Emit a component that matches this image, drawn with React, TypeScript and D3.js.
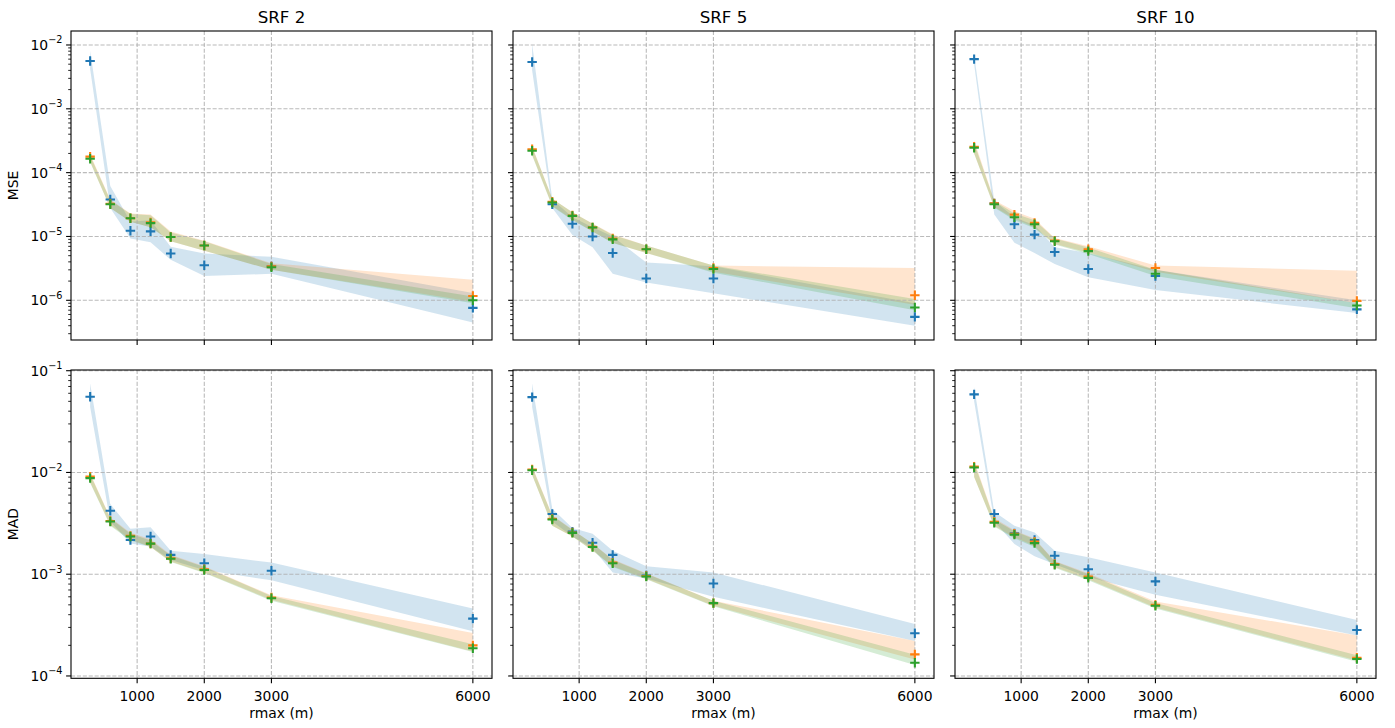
import React from "react";
import * as d3 from "d3";

// ---------- data ----------
const rmax = [300, 600, 900, 1200, 1500, 2000, 3000, 6000];
const xTicks = [1000, 2000, 3000, 6000];
const srfTitles = ["SRF 2", "SRF 5", "SRF 10"];
const metricLabels = ["MSE", "MAD"];
const seriesColors = ["#1f77b4", "#ff7f0e", "#2ca02c"];

// MSE, SRF 2
const mse2A = [5.6e-3, 3.8e-5, 1.23e-5, 1.2e-5, 5.4e-6, 3.55e-6, 3.4e-6, 7.6e-7];
const mse2ALo = [4.2e-3, 2.8e-5, 9.3e-6, 8.1e-6, 4.3e-6, 2.4e-6, 2.6e-6, 4.5e-7];
const mse2AHi = [8.1e-3, 6.2e-5, 1.7e-5, 1.8e-5, 6.9e-6, 5.4e-6, 4.8e-6, 1.3e-6];
const mse2B = [1.78e-4, 3.25e-5, 1.93e-5, 1.66e-5, 9.8e-6, 7.2e-6, 3.4e-6, 1.17e-6];
const mse2BLo = [1.5e-4, 2.8e-5, 1.7e-5, 1.4e-5, 8.4e-6, 6.0e-6, 3.0e-6, 9.5e-7];
const mse2BHi = [1.95e-4, 3.8e-5, 2.3e-5, 2.2e-5, 1.2e-5, 8.6e-6, 3.8e-6, 2.1e-6];
const mse2C = [1.65e-4, 3.2e-5, 1.93e-5, 1.62e-5, 9.8e-6, 7.2e-6, 3.3e-6, 1.0e-6];
const mse2CLo = [1.45e-4, 2.8e-5, 1.7e-5, 1.4e-5, 8.4e-6, 6.0e-6, 3.0e-6, 9.0e-7];
const mse2CHi = [1.85e-4, 3.7e-5, 2.25e-5, 2.15e-5, 1.15e-5, 8.4e-6, 3.7e-6, 1.15e-6];

// MSE, SRF 5
const mse5A = [5.4e-3, 3.2e-5, 1.58e-5, 1.0e-5, 5.5e-6, 2.2e-6, 2.2e-6, 5.5e-7];
const mse5ALo = [4.0e-3, 2.8e-5, 1.05e-5, 6.8e-6, 2.6e-6, 1.9e-6, 1.29e-6, 4.0e-7];
const mse5AHi = [1.05e-2, 3.8e-5, 2.0e-5, 1.4e-5, 1.0e-5, 3.9e-6, 3.4e-6, 9.0e-7];
const mse5B = [2.32e-4, 3.5e-5, 2.13e-5, 1.39e-5, 9.3e-6, 6.3e-6, 3.2e-6, 1.2e-6];
const mse5BLo = [1.9e-4, 3.0e-5, 1.85e-5, 1.2e-5, 8.0e-6, 5.5e-6, 2.8e-6, 8.5e-7];
const mse5BHi = [2.6e-4, 3.9e-5, 2.4e-5, 1.6e-5, 1.08e-5, 7.2e-6, 3.5e-6, 3.2e-6];
const mse5C = [2.2e-4, 3.4e-5, 2.1e-5, 1.38e-5, 9.0e-6, 6.3e-6, 3.1e-6, 7.7e-7];
const mse5CLo = [1.85e-4, 2.95e-5, 1.8e-5, 1.2e-5, 7.9e-6, 5.5e-6, 2.7e-6, 7.0e-7];
const mse5CHi = [2.55e-4, 3.9e-5, 2.4e-5, 1.58e-5, 1.05e-5, 7.2e-6, 3.5e-6, 1.05e-6];

// MSE, SRF 10
const mse10A = [6.0e-3, 3.3e-5, 1.55e-5, 1.07e-5, 5.7e-6, 3.1e-6, 2.4e-6, 7.2e-7];
const mse10ALo = [5.0e-3, 2.2e-5, 8.0e-6, 5.5e-6, 3.7e-6, 2.3e-6, 1.45e-6, 6.3e-7];
const mse10AHi = [7.0e-3, 3.6e-5, 2.0e-5, 1.5e-5, 6.8e-6, 5.5e-6, 3.0e-6, 1.0e-6];
const mse10B = [2.55e-4, 3.3e-5, 2.2e-5, 1.63e-5, 8.6e-6, 6.3e-6, 3.2e-6, 9.8e-7];
const mse10BLo = [2.0e-4, 2.9e-5, 1.9e-5, 1.4e-5, 7.6e-6, 5.6e-6, 2.8e-6, 9.0e-7];
const mse10BHi = [3.2e-4, 3.7e-5, 2.5e-5, 1.9e-5, 9.5e-6, 7.0e-6, 3.5e-6, 2.9e-6];
const mse10C = [2.45e-4, 3.2e-5, 2.0e-5, 1.55e-5, 8.4e-6, 5.9e-6, 2.6e-6, 8.3e-7];
const mse10CLo = [2.0e-4, 2.85e-5, 1.8e-5, 1.35e-5, 7.5e-6, 5.3e-6, 2.4e-6, 7.5e-7];
const mse10CHi = [2.9e-4, 3.6e-5, 2.3e-5, 1.8e-5, 9.3e-6, 6.7e-6, 3.0e-6, 9.0e-7];

// MAD, SRF 2
const mad2A = [5.55e-2, 4.2e-3, 2.17e-3, 2.35e-3, 1.55e-3, 1.28e-3, 1.08e-3, 3.66e-4];
const mad2ALo = [4.4e-2, 3.3e-3, 2.0e-3, 1.87e-3, 1.38e-3, 1.1e-3, 8.7e-4, 2.75e-4];
const mad2AHi = [7.5e-2, 4.9e-3, 2.8e-3, 2.9e-3, 1.7e-3, 1.58e-3, 1.3e-3, 4.6e-4];
const mad2B = [9.1e-3, 3.33e-3, 2.38e-3, 2.0e-3, 1.43e-3, 1.12e-3, 5.9e-4, 2.0e-4];
const mad2BLo = [8.0e-3, 3.05e-3, 2.2e-3, 1.85e-3, 1.33e-3, 1.04e-3, 5.6e-4, 1.74e-4];
const mad2BHi = [9.8e-3, 3.6e-3, 2.55e-3, 2.2e-3, 1.55e-3, 1.2e-3, 6.2e-4, 2.64e-4];
const mad2C = [8.8e-3, 3.3e-3, 2.35e-3, 2.0e-3, 1.42e-3, 1.1e-3, 5.8e-4, 1.87e-4];
const mad2CLo = [7.9e-3, 3.0e-3, 2.15e-3, 1.85e-3, 1.32e-3, 1.03e-3, 5.5e-4, 1.72e-4];
const mad2CHi = [9.6e-3, 3.55e-3, 2.5e-3, 2.15e-3, 1.53e-3, 1.18e-3, 6.1e-4, 2.05e-4];

// MAD, SRF 5
const mad5A = [5.5e-2, 3.9e-3, 2.62e-3, 2.04e-3, 1.55e-3, 9.7e-4, 8.1e-4, 2.63e-4];
const mad5ALo = [4.4e-2, 3.3e-3, 2.35e-3, 1.8e-3, 1.04e-3, 9.1e-4, 6.0e-4, 2.2e-4];
const mad5AHi = [7.5e-2, 4.4e-3, 2.85e-3, 2.5e-3, 1.7e-3, 1.2e-3, 1.04e-3, 3.25e-4];
const mad5B = [1.07e-2, 3.5e-3, 2.57e-3, 1.87e-3, 1.3e-3, 9.6e-4, 5.2e-4, 1.63e-4];
const mad5BLo = [9.5e-3, 3.0e-3, 2.35e-3, 1.72e-3, 1.2e-3, 9.0e-4, 4.9e-4, 1.45e-4];
const mad5BHi = [1.15e-2, 3.8e-3, 2.75e-3, 2.0e-3, 1.4e-3, 1.02e-3, 5.5e-4, 2.2e-4];
const mad5C = [1.05e-2, 3.45e-3, 2.55e-3, 1.85e-3, 1.28e-3, 9.5e-4, 5.2e-4, 1.35e-4];
const mad5CLo = [9.4e-3, 3.0e-3, 2.35e-3, 1.7e-3, 1.18e-3, 8.9e-4, 4.85e-4, 1.28e-4];
const mad5CHi = [1.13e-2, 3.75e-3, 2.72e-3, 2.0e-3, 1.38e-3, 1.01e-3, 5.5e-4, 1.62e-4];

// MAD, SRF 10
const mad10A = [5.86e-2, 3.9e-3, 2.52e-3, 2.17e-3, 1.52e-3, 1.12e-3, 8.5e-4, 2.83e-4];
const mad10ALo = [5.0e-2, 3.3e-3, 1.98e-3, 1.5e-3, 1.25e-3, 9.4e-4, 6.3e-4, 2.5e-4];
const mad10AHi = [6.9e-2, 4.1e-3, 3.0e-3, 2.57e-3, 1.7e-3, 1.47e-3, 1.04e-3, 3.55e-4];
const mad10B = [1.14e-2, 3.28e-3, 2.5e-3, 2.09e-3, 1.26e-3, 9.5e-4, 5.0e-4, 1.51e-4];
const mad10BLo = [9.0e-3, 3.0e-3, 2.3e-3, 1.9e-3, 1.18e-3, 8.9e-4, 4.7e-4, 1.42e-4];
const mad10BHi = [1.3e-2, 3.55e-3, 2.7e-3, 2.25e-3, 1.35e-3, 1.02e-3, 5.4e-4, 2.5e-4];
const mad10C = [1.12e-2, 3.2e-3, 2.45e-3, 2.02e-3, 1.24e-3, 9.2e-4, 4.9e-4, 1.47e-4];
const mad10CLo = [9.0e-3, 2.95e-3, 2.25e-3, 1.85e-3, 1.16e-3, 8.7e-4, 4.6e-4, 1.38e-4];
const mad10CHi = [1.25e-2, 3.45e-3, 2.65e-3, 2.2e-3, 1.33e-3, 1.0e-3, 5.2e-4, 1.6e-4];

// axis limits
const xDomain = [15, 6285];
const mseDomain = [Math.pow(10, -6.622), Math.pow(10, -1.781)];
const madDomain = [Math.pow(10, -4.023), Math.pow(10, -0.993)];

// ---------- assembly ----------
type Series = { mean: number[]; lo: number[]; hi: number[] };
const grid: Series[][][] = [
  [
    [
      { mean: mse2A, lo: mse2ALo, hi: mse2AHi },
      { mean: mse2B, lo: mse2BLo, hi: mse2BHi },
      { mean: mse2C, lo: mse2CLo, hi: mse2CHi },
    ],
    [
      { mean: mse5A, lo: mse5ALo, hi: mse5AHi },
      { mean: mse5B, lo: mse5BLo, hi: mse5BHi },
      { mean: mse5C, lo: mse5CLo, hi: mse5CHi },
    ],
    [
      { mean: mse10A, lo: mse10ALo, hi: mse10AHi },
      { mean: mse10B, lo: mse10BLo, hi: mse10BHi },
      { mean: mse10C, lo: mse10CLo, hi: mse10CHi },
    ],
  ],
  [
    [
      { mean: mad2A, lo: mad2ALo, hi: mad2AHi },
      { mean: mad2B, lo: mad2BLo, hi: mad2BHi },
      { mean: mad2C, lo: mad2CLo, hi: mad2CHi },
    ],
    [
      { mean: mad5A, lo: mad5ALo, hi: mad5AHi },
      { mean: mad5B, lo: mad5BLo, hi: mad5BHi },
      { mean: mad5C, lo: mad5CLo, hi: mad5CHi },
    ],
    [
      { mean: mad10A, lo: mad10ALo, hi: mad10AHi },
      { mean: mad10B, lo: mad10BLo, hi: mad10BHi },
      { mean: mad10C, lo: mad10CLo, hi: mad10CHi },
    ],
  ],
];
const rowDomains = [mseDomain, madDomain];

const W = 1395;
const H = 728;
const colLeft = [71, 513, 955];
const panelW = 421;
const rowTop = [31, 370];
const rowH = [309, 308.3];
const FONT = "DejaVu Sans, Verdana, sans-serif";
const TICK_FS = 13.9;

function Panel({ row, col }: { row: number; col: number }) {
  const x0 = colLeft[col];
  const y0 = rowTop[row];
  const w = panelW;
  const h = rowH[row];
  const dom = rowDomains[row];
  const x = d3.scaleLinear().domain(xDomain).range([x0, x0 + w]);
  const y = d3.scaleLog().domain(dom).range([y0 + h, y0]);
  const clipId = `clip-${row}-${col}`;
  const series = grid[row][col];

  const kMin = Math.ceil(Math.log10(dom[0]) - 1e-9);
  const kMax = Math.floor(Math.log10(dom[1]) + 1e-9);
  const majors: number[] = [];
  for (let k = kMin; k <= kMax; k++) majors.push(k);
  const minors: number[] = [];
  for (let k = kMin - 1; k <= kMax; k++) {
    for (let m = 2; m <= 9; m++) {
      const v = m * Math.pow(10, k);
      if (v >= dom[0] && v <= dom[1]) minors.push(v);
    }
  }

  const area = d3
    .area<number>()
    .x((_, i) => x(rmax[i]))
    .y0((_, i) => y(series[curIdx].lo[i]))
    .y1((_, i) => y(series[curIdx].hi[i]));
  let curIdx = 0;

  const gridStyle = { stroke: "#b0b0b0", strokeWidth: 1.1, strokeDasharray: "4.1,1.8", opacity: 0.85 };

  return (
    <g>
      <defs>
        <clipPath id={clipId}>
          <rect x={x0} y={y0} width={w} height={h} />
        </clipPath>
      </defs>
      <g clipPath={`url(#${clipId})`}>
        {series.map((s, si) => {
          curIdx = si;
          const d = area(rmax) as string;
          return <path key={si} d={d} fill={seriesColors[si]} fillOpacity={0.2} stroke="none" />;
        })}
        {xTicks.map((t) => (
          <line key={"gx" + t} x1={x(t)} x2={x(t)} y1={y0} y2={y0 + h} {...gridStyle} />
        ))}
        {majors.map((k) => (
          <line key={"gy" + k} x1={x0} x2={x0 + w} y1={y(Math.pow(10, k))} y2={y(Math.pow(10, k))} {...gridStyle} />
        ))}
        {series.map((s, si) => (
          <g key={"m" + si}>
            {s.mean.map((v, i) => (
              <path
                key={i}
                d={`M${x(rmax[i]) - 4.7},${y(v)}H${x(rmax[i]) + 4.7}M${x(rmax[i])},${y(v) - 4.7}V${y(v) + 4.7}`}
                stroke={seriesColors[si]}
                strokeWidth={2.1}
                fill="none"
              />
            ))}
          </g>
        ))}
      </g>
      {/* x ticks */}
      {xTicks.map((t) => (
        <g key={"xt" + t}>
          <line x1={x(t)} x2={x(t)} y1={y0 + h} y2={y0 + h + 4.9} stroke="#000" strokeWidth={1.1} />
          {row === 1 && (
            <text x={x(t)} y={y0 + h + 22.5} textAnchor="middle" fontFamily={FONT} fontSize={TICK_FS} fill="#000">
              {t}
            </text>
          )}
        </g>
      ))}
      {/* y ticks */}
      {minors.map((v, i) => (
        <line key={"ym" + i} x1={x0 - 2.8} x2={x0} y1={y(v)} y2={y(v)} stroke="#000" strokeWidth={0.85} />
      ))}
      {majors.map((k) => (
        <g key={"yt" + k}>
          <line x1={x0 - 4.9} x2={x0} y1={y(Math.pow(10, k))} y2={y(Math.pow(10, k))} stroke="#000" strokeWidth={1.1} />
          {col === 0 && (
            <text x={x0 - 8.5} y={y(Math.pow(10, k)) + 5} textAnchor="end" fontFamily={FONT} fontSize={TICK_FS} fill="#000">
              <tspan>10</tspan>
              <tspan fontSize={9.7} dy={-6.7}>
                {"\u2212" + Math.abs(k)}
              </tspan>
            </text>
          )}
        </g>
      ))}
      <rect x={x0} y={y0} width={w} height={h} fill="none" stroke="#000" strokeWidth={1.1} />
      {row === 0 && (
        <text x={x0 + w / 2} y={y0 - 8.5} textAnchor="middle" fontFamily={FONT} fontSize={16.7} fill="#000">
          {srfTitles[col]}
        </text>
      )}
      {row === 1 && (
        <text x={x0 + w / 2} y={y0 + h + 39.5} textAnchor="middle" fontFamily={FONT} fontSize={TICK_FS} fill="#000">
          rmax (m)
        </text>
      )}
      {col === 0 && (
        <text
          transform={`translate(${18},${y0 + h / 2}) rotate(-90)`}
          textAnchor="middle"
          fontFamily={FONT}
          fontSize={TICK_FS}
          fill="#000"
        >
          {metricLabels[row]}
        </text>
      )}
    </g>
  );
}

export default function App() {
  return (
    <div style={{ position: "absolute", left: 0, top: 0 }}>
      <svg width={W} height={H} viewBox={`0 0 ${W} ${H}`} style={{ display: "block", background: "#fff" }}>
        <rect x={0} y={0} width={W} height={H} fill="#fff" />
        {[0, 1].map((r) => [0, 1, 2].map((c) => <Panel key={`${r}-${c}`} row={r} col={c} />))}
      </svg>
    </div>
  );
}
